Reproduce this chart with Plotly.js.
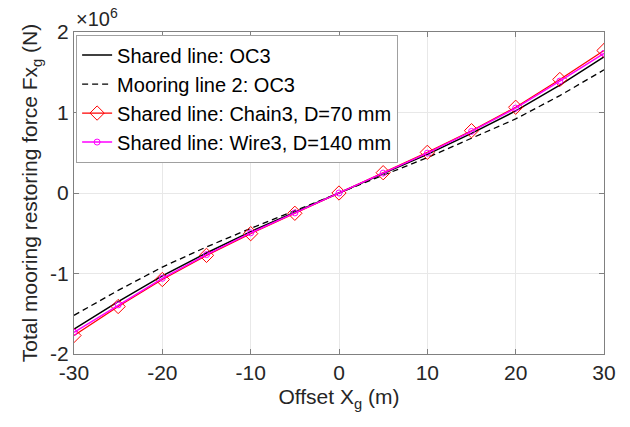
<!DOCTYPE html>
<html>
<head>
<meta charset="utf-8">
<script src="https://cdn.plot.ly/plotly-3.0.1.min.js"></script>
<style>html,body{margin:0;padding:0;background:#fff;}#chart{width:630px;height:427px;}</style>
</head>
<body>
<div id="chart"></div>
<script>
const offset = [-30, -25, -20, -15, -10, -5, 0, 5, 10, 15, 20, 25, 30];
const sharedOC3 = [-1.69, -1.35, -1.03, -0.745, -0.48, -0.235, 0, 0.24, 0.48, 0.74, 1.02, 1.34, 1.69];
const mooring2OC3 = [-1.52, -1.21, -0.92, -0.67, -0.44, -0.215, 0, 0.22, 0.44, 0.68, 0.92, 1.21, 1.53];
const chain3 = [-1.77, -1.41, -1.075, -0.775, -0.505, -0.252, 0, 0.252, 0.505, 0.774, 1.065, 1.41, 1.77];
const wire3 = [-1.73, -1.39, -1.06, -0.765, -0.495, -0.247, 0, 0.247, 0.495, 0.765, 1.055, 1.39, 1.735];
const scale = 1e6;
const xTicks = [-30, -20, -10, 0, 10, 20, 30];
const yTicks = [-2, -1, 0, 1, 2];

const toN = a => a.map(v => v * scale);
const font = "Liberation Sans, Arial, Helvetica, sans-serif";

const traces = [
  {x: offset, y: toN(sharedOC3), name: 'Shared line: OC3', mode: 'lines',
   line: {color: '#000000', width: 1.5}},
  {x: offset, y: toN(mooring2OC3), name: 'Mooring line 2: OC3', mode: 'lines',
   line: {color: '#000000', width: 1.3, dash: '6px,4px'}},
  {x: offset, y: toN(chain3), name: 'Shared line: Chain3, D=70 mm', mode: 'lines+markers',
   line: {color: '#FF0000', width: 1.2},
   marker: {symbol: 'diamond-open', size: 11, color: '#FF0000', line: {width: 1, color: '#FF0000'}}},
  {x: offset, y: toN(wire3), name: 'Shared line: Wire3, D=140 mm', mode: 'lines+markers',
   line: {color: '#FF00FF', width: 1.5},
   marker: {symbol: 'circle-open', size: 6, color: '#FF00FF', line: {width: 1, color: '#FF00FF'}}}
];

const layout = {
  width: 630, height: 427,
  margin: {l: 74, r: 26, t: 32, b: 73},
  paper_bgcolor: '#ffffff', plot_bgcolor: '#ffffff',
  font: {family: font, size: 21, color: '#262626'},
  showlegend: true,
  legend: {x: 0.004, y: 0.992, xanchor: 'left', yanchor: 'top', itemwidth: 30,
    bgcolor: '#ffffff', bordercolor: '#a0a0a0', borderwidth: 1,
    font: {family: font, size: 20, color: '#000000'}, tracegroupgap: 0},
  xaxis: {range: [-30, 30], tickvals: xTicks, ticktext: xTicks.map(String),
    showgrid: true, gridcolor: '#e8e8e8', zeroline: false,
    showline: true, linecolor: '#808080', linewidth: 1, mirror: 'ticks',
    ticks: 'inside', ticklen: 5, tickcolor: '#808080',
    tickfont: {family: font, size: 21, color: '#262626'},
    title: {text: 'Offset X<sub>g</sub> (m)', font: {family: font, size: 21, color: '#262626'}, standoff: 6}},
  yaxis: {range: [-2 * scale, 2 * scale], tickvals: yTicks.map(v => v * scale), ticktext: yTicks.map(String),
    showgrid: true, gridcolor: '#e8e8e8', zeroline: false,
    showline: true, linecolor: '#808080', linewidth: 1, mirror: 'ticks',
    ticks: 'inside', ticklen: 5, tickcolor: '#808080',
    tickfont: {family: font, size: 21, color: '#262626'},
    title: {text: 'Total mooring restoring force Fx<sub>g</sub> (N)', font: {family: font, size: 21, color: '#262626'}, standoff: 6}},
  annotations: [{xref: 'paper', yref: 'paper', x: 0.0, y: 1.0, xanchor: 'left', yanchor: 'bottom', yshift: 0,
    text: '×10<sup>6</sup>', showarrow: false, font: {family: font, size: 20, color: '#262626'}}]
};

Plotly.newPlot('chart', traces, layout, {staticPlot: true, displayModeBar: false});
</script>
</body>
</html>
